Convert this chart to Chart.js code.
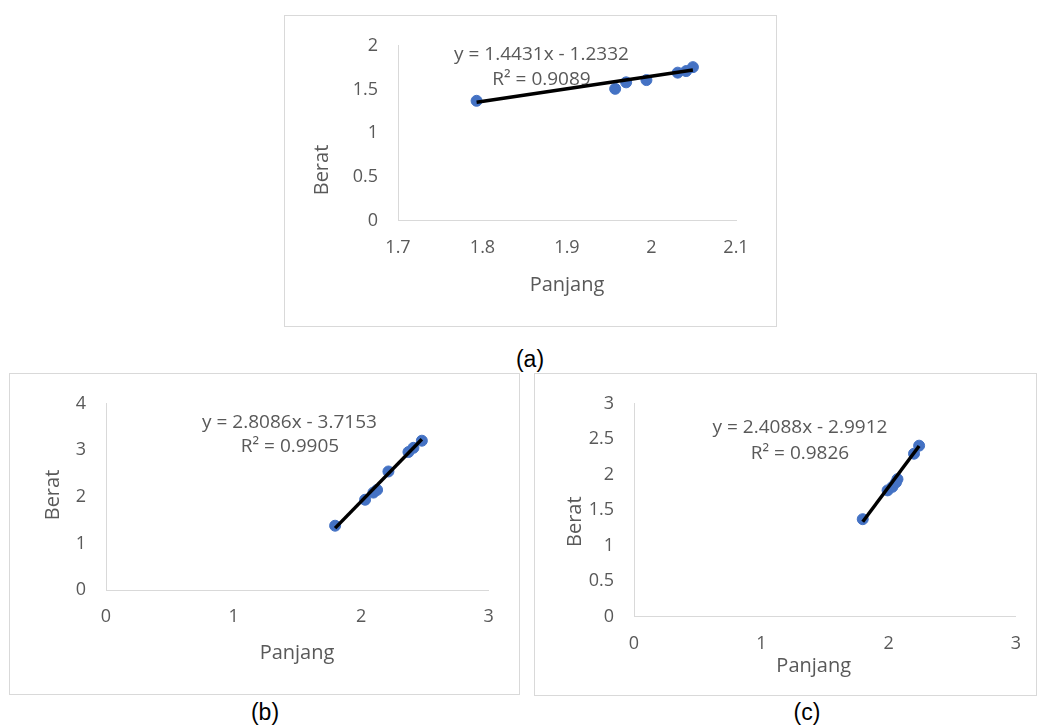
<!DOCTYPE html>
<html><head><meta charset="utf-8">
<script src="https://cdn.jsdelivr.net/npm/chart.js@4/dist/chart.umd.min.js"></script>
<style>
html,body{margin:0;padding:0;background:#fff;}
body{width:1038px;height:726px;position:relative;overflow:hidden;}
.box{position:absolute;}
.box canvas{position:absolute;left:0;top:0;}
.frame{position:absolute;left:0;top:0;right:0;bottom:0;border:1px solid #d9d9d9;box-sizing:border-box;pointer-events:none;}
.cap{position:absolute;font-family:'Liberation Sans',Arial,sans-serif;font-size:23px;color:#000;transform:translate(-50%,-50%);white-space:nowrap;line-height:1;}
</style></head><body>
<div class="box" id="boxA" style="left:284px;top:15px;width:493px;height:312px;"><canvas id="cA" width="493" height="312"></canvas><div class="frame"></div></div>
<div class="box" id="boxB" style="left:9px;top:373px;width:511px;height:322px;"><canvas id="cB" width="511" height="322"></canvas><div class="frame"></div></div>
<div class="box" id="boxC" style="left:534px;top:373px;width:503px;height:323px;"><canvas id="cC" width="503" height="323"></canvas><div class="frame"></div></div>
<div class="cap" style="left:530px;top:359px;">(a)</div>
<div class="cap" style="left:265px;top:712px;">(b)</div>
<div class="cap" style="left:807px;top:712px;">(c)</div>
<script>
// ---- data ----
const panjangA = [1.793, 1.957, 1.970, 1.994, 2.031, 2.041, 2.049];
const beratA   = [1.371, 1.508, 1.582, 1.608, 1.693, 1.711, 1.756];
const panjangB = [1.796, 2.031, 2.096, 2.125, 2.214, 2.371, 2.410, 2.476];
const beratB   = [1.381, 1.939, 2.092, 2.150, 2.546, 2.964, 3.054, 3.207];
const panjangC = [1.797, 1.992, 2.030, 2.058, 2.070, 2.200, 2.240];
const beratC   = [1.374, 1.780, 1.830, 1.892, 1.938, 2.297, 2.410];

const trendSlope     = [1.4431, 2.8086, 2.4088];
const trendIntercept = [-1.2332, -3.7153, -2.9912];
const equationText = ['y = 1.4431x - 1.2332', 'y = 2.8086x - 3.7153', 'y = 2.4088x - 2.9912'];
const r2Text       = ['R² = 0.9089', 'R² = 0.9905', 'R² = 0.9826'];

const xTicksA = ['1.7', '1.8', '1.9', '2', '2.1'];
const yTicksA = ['0', '0.5', '1', '1.5', '2'];
const xTicksB = ['0', '1', '2', '3'];
const yTicksB = ['0', '1', '2', '3', '4'];
const xTicksC = ['0', '1', '2', '3'];
const yTicksC = ['0', '0.5', '1', '1.5', '2', '2.5', '3'];

const xTitle = 'Panjang';
const yTitle = 'Berat';

// ---- styling / layout ----
const FONT = "'Open Sans', 'Noto Sans', sans-serif";
const TEXT = '#595959';
const AXIS = '#d9d9d9';
const POINT = '#4472C4';

const textPlugin = {
  id: 'freeText',
  beforeDatasetsDraw(chart) {
    const items = chart.options.plugins.freeText.items || [];
    const ctx = chart.ctx;
    items.forEach(it => {
      ctx.save();
      ctx.fillStyle = TEXT;
      ctx.font = it.size + 'px ' + FONT;
      ctx.textAlign = 'center';
      ctx.textBaseline = 'middle';
      ctx.translate(it.x, it.y);
      if (it.rot) ctx.rotate(it.rot);
      ctx.fillText(it.text, 0, 0);
      ctx.restore();
    });
  }
};

function makeChart(id, xs, ys, k, xT, yT, lay) {
  const W = lay.w, H = lay.h;
  const pts = xs.map((x, i) => ({x: x, y: ys[i]}));
  const x0 = Math.min(...xs), x1 = Math.max(...xs);
  const trend = [x0, x1].map(x => ({x: x, y: trendSlope[k] * x + trendIntercept[k]}));
  const num = a => a.map(Number);
  const xt = num(xT), yt = num(yT);
  new Chart(document.getElementById(id), {
    type: 'scatter',
    data: {
      datasets: [
        {type: 'line', data: trend, borderColor: '#000', borderWidth: 3.5, pointRadius: 0, fill: false, order: 0, tension: 0},
        {data: pts, backgroundColor: POINT, borderColor: POINT, borderWidth: 1, pointRadius: 5.5, order: 1}
      ]
    },
    options: {
      responsive: false,
      animation: false,
      events: [],
      layout: {padding: {left: 0, top: lay.area[1], right: W - lay.area[2], bottom: 0}},
      plugins: {
        legend: {display: false},
        tooltip: {enabled: false},
        freeText: {items: [
          {text: equationText[k], x: lay.eq[0], y: lay.eq[1], size: 19},
          {text: r2Text[k], x: lay.r2[0], y: lay.r2[1], size: 19},
          {text: xTitle, x: lay.xt[0], y: lay.xt[1], size: 20},
          {text: yTitle, x: lay.yt[0], y: lay.yt[1], size: 20, rot: -Math.PI / 2}
        ]}
      },
      scales: {
        x: {
          type: 'linear', position: 'bottom',
          min: xt[0], max: xt[xt.length - 1],
          grid: {display: false, drawTicks: false},
          border: {display: true, color: AXIS, width: 1},
          ticks: {stepSize: xt[1] - xt[0], padding: 16, color: TEXT, font: {family: FONT, size: 18},
                  maxRotation: 0, autoSkip: false, callback: (v, i) => xT[i]},
          afterFit: s => { s.height = H - lay.area[3]; }
        },
        y: {
          type: 'linear', position: 'left',
          min: yt[0], max: yt[yt.length - 1],
          grid: {display: false, drawTicks: false},
          border: {display: true, color: AXIS, width: 1},
          ticks: {stepSize: yt[1] - yt[0], padding: 20, color: TEXT, font: {family: FONT, size: 18},
                  autoSkip: false, callback: (v, i) => yT[i]},
          afterFit: s => { s.width = lay.area[0]; }
        }
      }
    },
    plugins: [textPlugin]
  });
}

makeChart('cA', panjangA, beratA, 0, xTicksA, yTicksA,
  {w: 493, h: 312, area: [114, 25.7, 452, 205.7], eq: [257.5, 40], r2: [257.5, 65], xt: [283, 270], yt: [38, 155]});
makeChart('cB', panjangB, beratB, 1, xTicksB, yTicksB,
  {w: 511, h: 322, area: [97, 26, 479.7, 217], eq: [280.5, 50], r2: [281, 73.7], xt: [288, 280], yt: [44, 122]});
makeChart('cC', panjangC, beratC, 2, xTicksC, yTicksC,
  {w: 503, h: 323, area: [100, 22, 483.7, 243.7], eq: [266, 55], r2: [266, 81], xt: [279.7, 293.7], yt: [41, 148.7]});
</script>
</body></html>
